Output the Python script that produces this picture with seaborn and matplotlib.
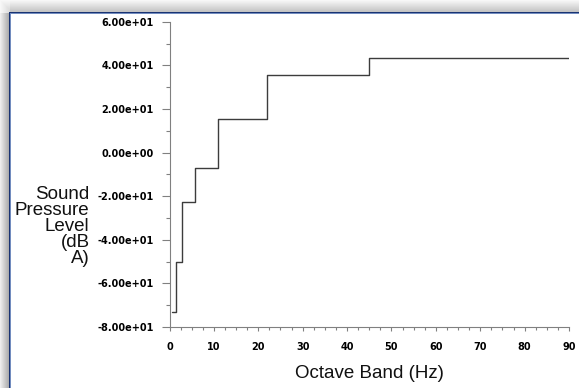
import numpy as np
import pandas as pd
import matplotlib
matplotlib.use("Agg")
import matplotlib.pyplot as plt
from matplotlib.ticker import MultipleLocator, FormatStrFormatter
import seaborn as sns

# ---- data ----
band_edges = [0.63, 1.5, 2.9, 5.7, 11.0, 22.0, 45.0, 90.0]   # Hz
spl_levels = [-73.2, -50.3, -22.8, -7.2, 15.3, 35.6, 43.2]   # dB A
x_label = "Octave Band (Hz)"
y_label = "Sound\nPressure\nLevel\n(dB\nA)"

df = pd.DataFrame({"band": band_edges,
                   "spl": spl_levels + [spl_levels[-1]]})

sns.set_style("ticks")
plt.rcParams["font.family"] = ["DejaVu Sans"]

W, H = 579, 388
fig = plt.figure(figsize=(W / 100, H / 100), dpi=100)

# ---- window frame background ----
img = np.ones((H, W, 3))
top_n, left_n = 12, 9
for r in range(top_n):
    g = 0.97 - 0.20 * (r / (top_n - 1))
    img[r, :, :] = g
for c in range(left_n):
    g = 0.93 - 0.25 * (c / (left_n - 1))
    img[top_n:, c, :] = np.minimum(img[top_n:, c, :], g)
for r in range(top_n + 1):
    for c in range(left_n + 1):
        img[r, c, :] = 0.97 - 0.012 * min(r, c)
navy = np.array([0.10, 0.20, 0.45])
light = np.array([0.45, 0.55, 0.75])
img[top_n, left_n:, :] = navy
img[top_n + 1, left_n + 1:, :] = light
img[top_n:, left_n, :] = navy
img[top_n + 1:, left_n + 1, :] = light
bg = fig.add_axes([0, 0, 1, 1], zorder=-1)
bg.imshow(img, aspect="auto", interpolation="nearest")
bg.axis("off")

# ---- main axes ----
x0, x1, y_top, y_bot = 169.5, 569.0, 21.7, 327.0
ax = fig.add_axes([x0 / W, (H - y_bot) / H, (x1 - x0) / W, (y_bot - y_top) / H])
ax.patch.set_alpha(0)

sns.lineplot(data=df, x="band", y="spl", drawstyle="steps-post",
             estimator=None, sort=False, color="#3c3c3c", linewidth=1.0, ax=ax)

ax.set_xlim(0, 90)
ax.set_ylim(-80, 60)
ax.xaxis.set_major_locator(MultipleLocator(10))
ax.xaxis.set_minor_locator(MultipleLocator(2.5))
ax.yaxis.set_major_locator(MultipleLocator(20))
ax.yaxis.set_minor_locator(MultipleLocator(10))
ax.yaxis.set_major_formatter(FormatStrFormatter("%.2e"))
ax.set_xlabel("")
ax.set_ylabel("")

for s in ["top", "right"]:
    ax.spines[s].set_visible(False)
for s in ["left", "bottom"]:
    ax.spines[s].set_color("#808080")
    ax.spines[s].set_linewidth(0.8)

ax.tick_params(axis="y", which="major", length=5.5, width=0.8, color="#808080",
               pad=5.8, labelsize=7, labelcolor="#000000")
ax.tick_params(axis="y", which="minor", length=3.0, width=0.8, color="#808080")
ax.tick_params(axis="x", which="major", length=3.0, width=0.8, color="#808080",
               pad=8, labelsize=7, labelcolor="#000000")
ax.tick_params(axis="x", which="minor", length=1.8, width=0.8, color="#808080")
for lab in ax.get_xticklabels() + ax.get_yticklabels():
    lab.set_fontweight("bold")

# ---- axis titles ----
fig.text(369.3 / W, 1 - 377.5 / H, x_label, ha="center", va="baseline",
         fontsize=13.5, family=["Liberation Sans", "DejaVu Sans"], color="#111111")
fig.text(89.5 / W, 1 - 186.0 / H, y_label, ha="right", va="top",
         fontsize=13.5, family=["Liberation Sans", "DejaVu Sans"], color="#111111",
         linespacing=0.92, multialignment="right")

fig.savefig("out.png", dpi=100)
